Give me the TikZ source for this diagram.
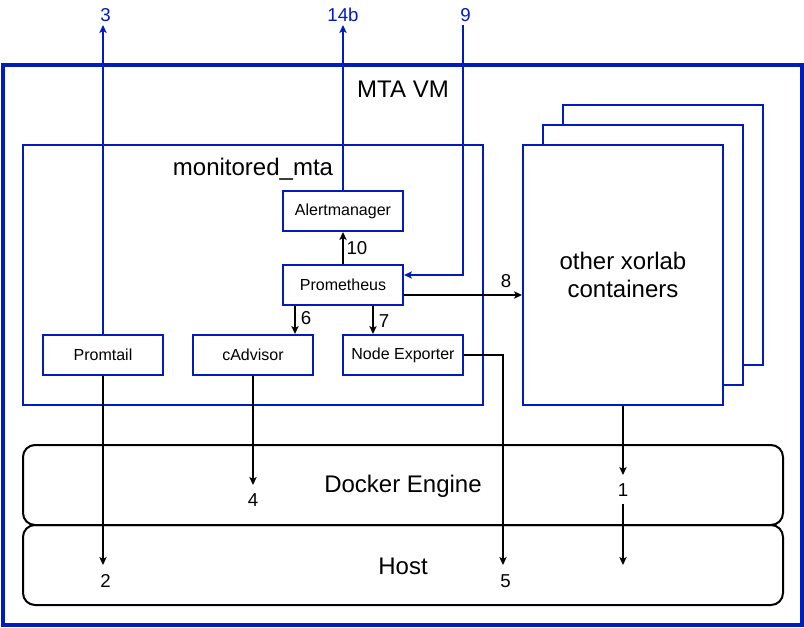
\documentclass[tikz,border=0pt]{standalone}
\usepackage{fontspec}
\setmainfont{Liberation Sans}
\usetikzlibrary{arrows.meta, positioning, calc}
\definecolor{vmblue}{RGB}{0, 29, 188}
\tikzset{
  comp/.style={rectangle, draw=vmblue, line width=1.5pt, fill=white, minimum width=90pt,
               minimum height=30pt, inner sep=0pt, font=\fontsize{12}{14}\selectfont},
  grpbox/.style={rectangle, draw=vmblue, line width=1.5pt, inner sep=0pt},
  layer/.style={rectangle, rounded corners=9pt, draw=black, line width=1.5pt,
                minimum width=570pt, minimum height=60pt, inner sep=0pt},
  bigtxt/.style={font=\fontsize{18}{21}\selectfont, align=center},
  num/.style={font=\fontsize{14}{16}\selectfont, inner sep=1pt},
  arrow/.style={-{Stealth[length=6pt, width=5.5pt, inset=1.5pt]}, line width=1.5pt, draw=black},
  barrow/.style={arrow, draw=vmblue},
}

\begin{document}
\begin{tikzpicture}[x=0.75pt, y=-0.75pt]
  \useasboundingbox (0,0) rectangle (804,628);

  % frames
  \node[grpbox, line width=2.5pt, minimum width=599.25pt, minimum height=420pt] (vm) at (402.5,345) {};
  \node[bigtxt] (vmlbl) at (403,89) {MTA VM};
  \node[grpbox, minimum width=345pt, minimum height=195pt] (mon) at (253,275) {};
  \node[bigtxt] (monlbl) at (253,169) {monitored\_mta};

  % other containers (stacked)
  \node[comp, minimum width=150pt, minimum height=195pt] (cont3) at (663,235) {};
  \node[comp, minimum width=150pt, minimum height=195pt] (cont2) at (643,255) {};
  \node[comp, minimum width=150pt, minimum height=195pt, font=\fontsize{18}{21}\selectfont,
        align=center] (cont) at (623,275) {other xorlab\\containers};

  % layers
  \node[layer] (docker) at (403,485) {};
  \node[bigtxt] (dockerlbl) at (403,486) {Docker Engine};
  \node[layer] (host) at (403,565) {};
  \node[bigtxt] (hostlbl) at (403,566) {Host};

  % monitoring stack
  \node[comp] (alert) at (343,211) {Alertmanager};
  \node[comp] (prom) at (343,285) {Prometheus};
  \node[comp] (promtail) at (103,355) {Promtail};
  \node[comp] (cadvisor) at (253,355) {cAdvisor};
  \node[comp] (nodeexp) at (403,355) {Node Exporter};

  % end points
  \coordinate (e3) at (103,25);
  \coordinate (e14) at (343,25);
  \coordinate (t9) at (463,25);
  \coordinate (e2) at (103,565);
  \coordinate (e4) at (253,485);
  \coordinate (e5) at (503,565);
  \coordinate (e1) at (623,475);
  \coordinate (e1b) at (623,565);

  \node[num, text=vmblue, above=1.5pt of e3, xshift=2pt] (l3) {3};
  \node[num, text=vmblue, above=1.5pt of e14] (l14) {14b};
  \node[num, text=vmblue, above=1.5pt of t9, xshift=2pt] (l9) {9};
  \node[num, below=6pt of e2, xshift=2pt] (l2) {2};
  \node[num, below=5pt of e4] (l4) {4};
  \node[num, below=6pt of e5, xshift=2pt] (l5) {5};
  \node[num, below=5pt of e1] (l1) {1};

  % outgoing / incoming
  \draw[barrow] (promtail.north) -- (e3);
  \draw[barrow] (alert.north) -- (e14);
  \draw[barrow] (t9) |- ($(prom.east)+(0,-10)$);

  % internal
  \draw[arrow] (prom.north) -- (alert.south);
  \node[num, anchor=west] (l10) at ($(prom.north)!0.5!(alert.south)+(2,0)$) {10};
  \draw[arrow] ($(prom.east)+(0,10)$) -- ($(cont.west)+(0,20)$);
  \node[num] (l8) at (506,281) {8};
  \draw[arrow] ($(prom.south)+(-48,0)$) -- ($(cadvisor.north)+(42,0)$);
  \node[num] (l6) at (306,318) {6};
  \draw[arrow] ($(prom.south)+(30,0)$) -- ($(nodeexp.north)+(-30,0)$);
  \node[num] (l7) at (384,321) {7};

  % down to docker / host
  \draw[arrow] (promtail.south) -- (e2);
  \draw[arrow] (cadvisor.south) -- (e4);
  \draw[arrow] (nodeexp.east) -| (e5);
  \draw[arrow] (cont.south) -- (e1);
  \draw[arrow] (l1.south) ++(0,6) -- (e1b);
\end{tikzpicture}
\end{document}
